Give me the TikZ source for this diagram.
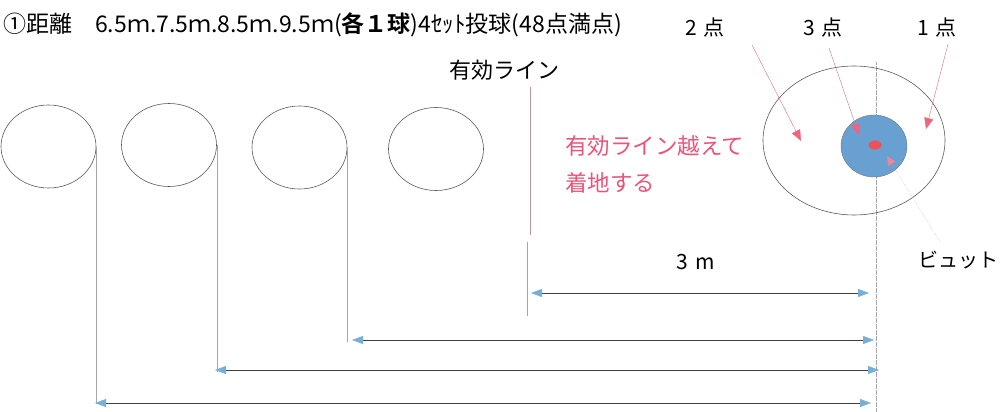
\documentclass[tikz,border=0pt]{standalone}
\usepackage{fontspec}
\setmainfont{Noto Sans CJK JP}[BoldFont={Noto Sans CJK JP Bold}]
\usetikzlibrary{shapes.geometric,arrows.meta}
\definecolor{linepink}{RGB}{215,110,140}
\definecolor{tippink}{RGB}{240,100,125}
\definecolor{textpink}{RGB}{232,85,120}
\definecolor{tipblue}{RGB}{120,175,215}
\definecolor{jackblue}{RGB}{105,160,210}
\definecolor{jackred}{RGB}{240,80,90}
\tikzset{
  ring/.style={draw=black!65, semithick, ellipse, inner sep=0pt, minimum width=95pt, minimum height=83pt},
  guide/.style={draw=black!35, very thin},
  dimline/.style={draw=black!75, thin,
    {Triangle[length=11pt,width=8pt,color=tipblue]}-{Triangle[length=11pt,width=8pt,color=tipblue]}},
  pointer/.style={draw=linepink, thin, -{Triangle[length=11pt,width=9pt,color=tippink]}},
  jtext/.style={inner sep=0pt, font=\fontsize{20}{20}\selectfont},
}
\begin{document}
\begin{tikzpicture}[x=1pt,y=-1pt]
  \useasboundingbox (0,0) rectangle (1002,412);

  \node[jtext, anchor=west, font=\fontsize{23}{23}\selectfont] (title) at (3,25)
    {①距離\quad 6.5ｍ.7.5ｍ.8.5ｍ.9.5ｍ(\textbf{各１球})4ｾｯﾄ投球(48点満点)};
  \node[jtext, font=\fontsize{21}{21}\selectfont] (pt2) at (705,28) {2\,\,点};
  \node[jtext, font=\fontsize{21}{21}\selectfont] (pt3) at (823,28) {3\,\,点};
  \node[jtext, font=\fontsize{21}{21}\selectfont] (pt1) at (937,28) {1\,\,点};
  \node[jtext, font=\fontsize{22}{22}\selectfont] (linelabel) at (504,70) {有効ライン};
  \node[jtext, anchor=west, text=textpink, font=\fontsize{22.5}{22.5}\selectfont] (over1) at (565,146) {有効ライン越えて};
  \node[jtext, anchor=west, text=textpink, font=\fontsize{22.5}{22.5}\selectfont] (over2) at (565,183) {着地する};
  \node[jtext, font=\fontsize{21}{21}\selectfont] (dist) at (696,262) {3\,\,m};
  \node[jtext] (jacklabel) at (958,260) {ビュット};

  \node[ring] (ring1) at (48.5,146.5) {};
  \node[ring] (ring2) at (169,145) {};
  \node[ring] (ring3) at (299.5,147.5) {};
  \node[ring] (ring4) at (436,149) {};

  \coordinate (ctop) at (876,62);
  \coordinate (cbot) at (876,412);
  \draw[guide, densely dotted] (ctop) -- (cbot);

  \node[ring, minimum width=182pt, minimum height=149pt] (court) at (854,140.5) {};
  \node[ellipse, draw=black!55, fill=jackblue, inner sep=0pt,
    minimum width=66pt, minimum height=62pt] (house) at (874,146) {};
  \node[ellipse, fill=jackred, inner sep=0pt, minimum width=13pt, minimum height=9pt] (jack) at (875,145) {};

  \coordinate (ltop) at (530,87);
  \coordinate (lbot) at (530,235);
  \coordinate (gtop) at (527,242);
  \coordinate (gbot) at (527,316);
  \draw[draw=linepink!70!black!60] (ltop) -- (lbot);
  \draw[guide] (gtop) -- (gbot);

  \coordinate (g1) at (ring1.east |- 0,404);
  \coordinate (g2) at (ring2.east |- 0,372);
  \coordinate (g3) at (ring3.east |- 0,342);
  \draw[guide] (ring1.east) -- (g1)
    (ring2.east) -- (g2)
    (ring3.east) -- (g3);

  \coordinate (d1l) at (531,293);
  \coordinate (d1r) at (869,293);
  \coordinate (d2l) at (352,340);
  \coordinate (d2r) at (874,340);
  \coordinate (d3l) at (215,370);
  \coordinate (d3r) at (879,370);
  \coordinate (d4l) at (95,403);
  \coordinate (d4r) at (871,403);
  \draw[dimline] (d1l) -- (d1r);
  \draw[dimline] (d2l) -- (d2r);
  \draw[dimline] (d3l) -- (d3r);
  \draw[dimline] (d4l) -- (d4r);

  \coordinate (p2s) at (752,45);
  \coordinate (p2e) at (801,141);
  \coordinate (p3s) at (829,48);
  \coordinate (p3e) at (859,135);
  \coordinate (p1s) at (948,44);
  \coordinate (p1e) at (926,129);
  \draw[pointer] (p2s) -- (p2e);
  \draw[pointer] (p3s) -- (p3e);
  \draw[pointer] (p1s) -- (p1e);

  \coordinate (js) at (940,242);
  \coordinate (je) at (887,156);
  \draw[draw=black!30, densely dotted,
    -{Triangle[length=9pt,width=8pt,color=tippink!80]}] (js) -- (je);
\end{tikzpicture}
\end{document}
